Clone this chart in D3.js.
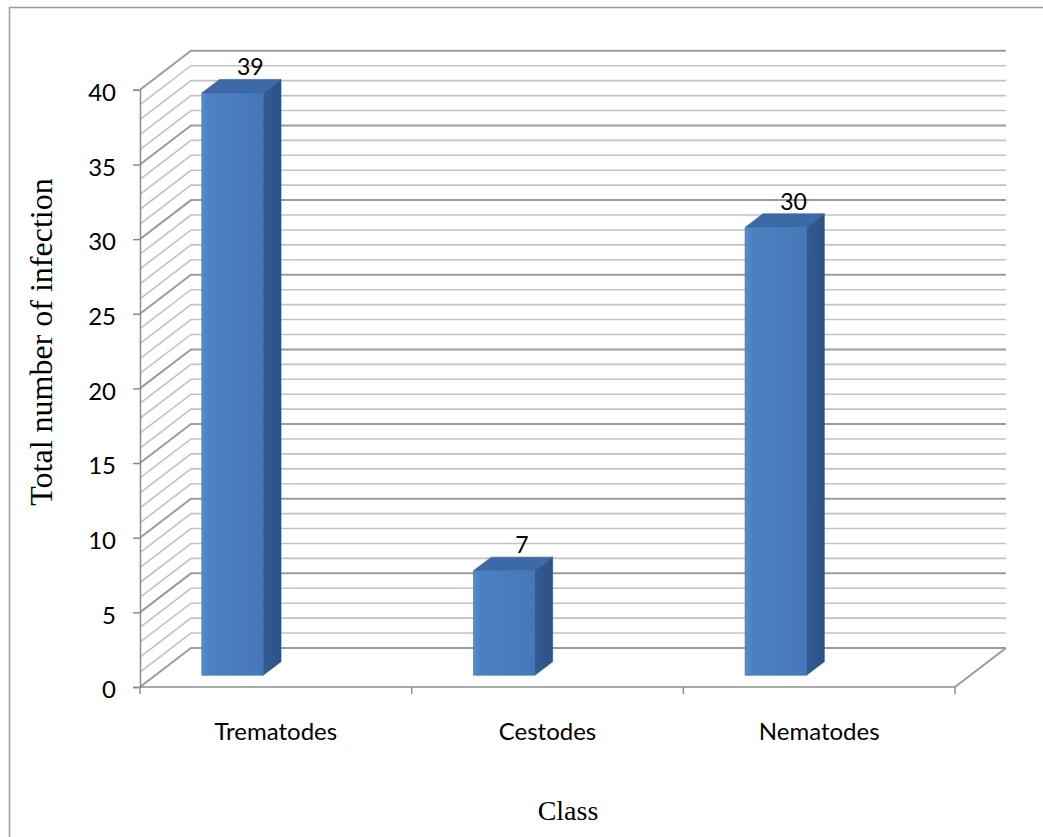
<!DOCTYPE html>
<html>
<head>
<meta charset="utf-8">
<script src="https://cdn.jsdelivr.net/npm/d3@7"></script>
<style>
  html, body { margin: 0; padding: 0; background: #fff; }
  svg { display: block; }
</style>
</head>
<body>
<svg id="chart" width="1043" height="837"></svg>
<script>
// Infections per parasite class
const categories = ["Trematodes", "Cestodes", "Nematodes"];
const infections = [39, 7, 30];
const yTicks = [0, 5, 10, 15, 20, 25, 30, 35, 40];
const yTitle = "Total number of infection";
const xTitle = "Class";

const svg = d3.select("#chart");

// Front plane of the 3-D box
const x = d3.scaleBand().domain(categories).range([140, 955]);
const y = d3.scaleLinear().domain([0, 40]).range([687, 89.8]);
const bw = x.bandwidth();

// Oblique depth offset of the back wall
const DX = 51, DY = 39;
const P = (xs, v, z) => [xs + z * DX, y(v) - z * DY];

const defs = svg.append("defs");
const gFront = defs.append("linearGradient").attr("id", "gFront");
gFront.append("stop").attr("offset", "0").attr("stop-color", "#548ccf");
gFront.append("stop").attr("offset", "0.12").attr("stop-color", "#4b80c3");
gFront.append("stop").attr("offset", "1").attr("stop-color", "#4678b9");
const gSide = defs.append("linearGradient").attr("id", "gSide");
gSide.append("stop").attr("offset", "0").attr("stop-color", "#335c94");
gSide.append("stop").attr("offset", "1").attr("stop-color", "#2c5287");

// Chart frame
svg.append("path")
  .attr("d", "M9.5,1100 V7.5 H1100")
  .attr("fill", "none").attr("stroke", "#9a9a9a").attr("stroke-width", 1.5);

const walls = svg.append("g");
const x0 = x.range()[0], x1 = x.range()[1];
const minor = d3.range(0, 41);

// Side-wall and back-wall gridlines, one per unit, darker every five
minor.forEach(v => {
  const major = v % 5 === 0;
  const a = P(x0, v, 0), b = P(x0, v, 1), c = P(x1, v, 1);
  walls.append("path")
    .attr("d", `M${a[0]},${a[1]} L${b[0]},${b[1]} L${c[0]},${c[1]}`)
    .attr("fill", "none")
    .attr("stroke", major ? "#9c9c9c" : "#c2c2c2")
    .attr("stroke-width", major ? 2 : 1.6);
});

// Floor right edge
{
  const a = P(x1, 0, 0), b = P(x1, 0, 1);
  walls.append("line")
    .attr("x1", a[0]).attr("y1", a[1]).attr("x2", b[0]).attr("y2", b[1])
    .attr("stroke", "#9c9c9c").attr("stroke-width", 2);
}

// Value axis on the front-left edge
const yAxis = svg.append("g")
  .attr("transform", `translate(${x0},0)`)
  .call(d3.axisLeft(y).tickValues(yTicks).tickSize(7).tickPadding(17).tickFormat(d3.format("d")));
yAxis.select(".domain").attr("stroke", "#8c8c8c").attr("stroke-width", 1.5);
yAxis.selectAll(".tick line").attr("stroke", "#8c8c8c").attr("stroke-width", 1.5);
yAxis.selectAll(".tick text")
  .attr("font-family", "Lato, 'Open Sans', sans-serif")
  .attr("font-size", 24).attr("fill", "#000").attr("dy", "0.45em");

// Category axis on the front floor edge
const xAxis = svg.append("g")
  .attr("transform", `translate(0,${y(0)})`)
  .call(d3.axisBottom(x).tickSize(0).tickPadding(36));
xAxis.select(".domain").remove();
xAxis.selectAll(".tick text")
  .attr("font-family", "Lato, 'Open Sans', sans-serif")
  .attr("font-size", 24).attr("fill", "#000");
svg.append("line")
  .attr("x1", x0).attr("x2", x1).attr("y1", y(0)).attr("y2", y(0))
  .attr("stroke", "#8c8c8c").attr("stroke-width", 1.5);
svg.append("g").selectAll("line")
  .data(categories.map(c => x(c)).concat([x1]))
  .join("line")
  .attr("x1", d => d).attr("x2", d => d)
  .attr("y1", y(0)).attr("y2", y(0) + 7)
  .attr("stroke", "#8c8c8c").attr("stroke-width", 1.5);

// 3-D columns
const z0 = 0.3, z1 = 0.65;
const pts = arr => arr.map(p => p.join(",")).join(" ");
const bars = svg.append("g");
categories.forEach((c, i) => {
  const v = infections[i];
  const xl = x(c) + bw * 0.171, xr = xl + bw * 0.226;
  const g = bars.append("g");
  g.append("polygon")
    .attr("points", pts([P(xr, 0, z0), P(xr, 0, z1), P(xr, v, z1), P(xr, v, z0)]))
    .attr("fill", "url(#gSide)").attr("stroke", "#2b4f80").attr("stroke-width", 0.6);
  g.append("polygon")
    .attr("points", pts([P(xl, v, z0), P(xr, v, z0), P(xr, v, z1), P(xl, v, z1)]))
    .attr("fill", "#3d69a6").attr("stroke", "#35609a").attr("stroke-width", 0.6);
  g.append("polygon")
    .attr("points", pts([P(xl, 0, z0), P(xr, 0, z0), P(xr, v, z0), P(xl, v, z0)]))
    .attr("fill", "url(#gFront)").attr("stroke", "#4070ae").attr("stroke-width", 0.6);
  const top = P((xl + xr) / 2, v, z1);
  svg.append("text")
    .attr("x", top[0]).attr("y", top[1] - 4)
    .attr("text-anchor", "middle")
    .attr("font-family", "Lato, 'Open Sans', sans-serif")
    .attr("font-size", 23).attr("fill", "#000")
    .text(v);
});

// Axis titles
svg.append("text")
  .attr("transform", `translate(52,342) rotate(-90)`)
  .attr("text-anchor", "middle")
  .attr("font-family", "'Liberation Serif', 'Times New Roman', serif")
  .attr("font-size", 32).attr("fill", "#000")
  .text(yTitle);
svg.append("text")
  .attr("x", 568).attr("y", 820)
  .attr("text-anchor", "middle")
  .attr("font-family", "'Liberation Serif', 'Times New Roman', serif")
  .attr("font-size", 28).attr("fill", "#000")
  .text(xTitle);
</script>
</body>
</html>
